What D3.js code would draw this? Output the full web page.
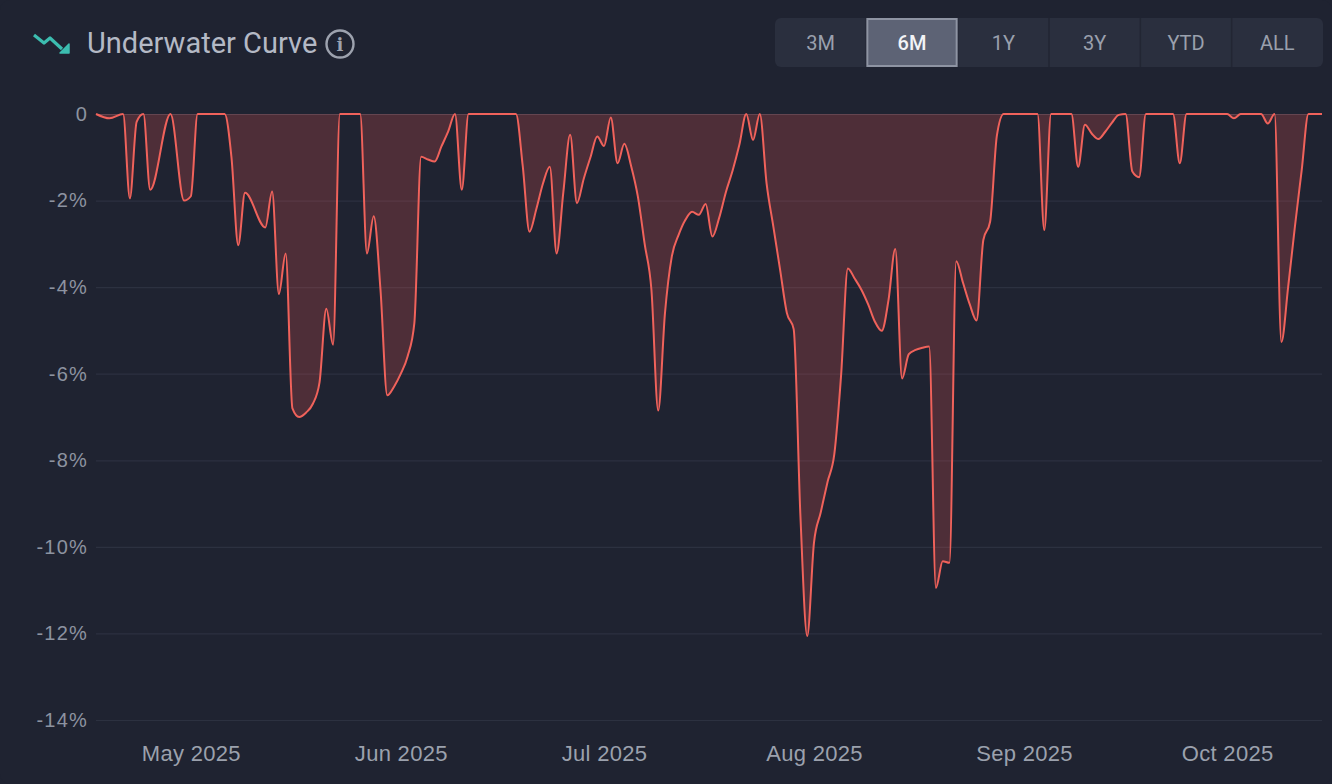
<!DOCTYPE html>
<html>
<head>
<meta charset="utf-8">
<script src="https://cdn.jsdelivr.net/npm/d3@7"></script>
<style>
  html, body { margin: 0; padding: 0; background: #1f2331; }
  svg { display: block; font-family: Roboto, "Liberation Sans", sans-serif; }
</style>
</head>
<body>
<div id="chart"></div>
<script>
// drawdown series (date, % below peak)
const dates = [
  "2025-04-17", "2025-04-19", "2025-04-21", "2025-04-22", "2025-04-23", "2025-04-24", "2025-04-25",
  "2025-04-28", "2025-04-30", "2025-05-01", "2025-05-02", "2025-05-06", "2025-05-07", "2025-05-08",
  "2025-05-09", "2025-05-12", "2025-05-13", "2025-05-14", "2025-05-15", "2025-05-16", "2025-05-17",
  "2025-05-18", "2025-05-19", "2025-05-20", "2025-05-21", "2025-05-22", "2025-05-23", "2025-05-26",
  "2025-05-27", "2025-05-28", "2025-05-29", "2025-05-30", "2025-05-31", "2025-06-01", "2025-06-02",
  "2025-06-03", "2025-06-04", "2025-06-05", "2025-06-06", "2025-06-07", "2025-06-08", "2025-06-09",
  "2025-06-10", "2025-06-11", "2025-06-18", "2025-06-19", "2025-06-20", "2025-06-21", "2025-06-22",
  "2025-06-23", "2025-06-24", "2025-06-25", "2025-06-26", "2025-06-27", "2025-06-28", "2025-06-29",
  "2025-06-30", "2025-07-01", "2025-07-02", "2025-07-03", "2025-07-04", "2025-07-05", "2025-07-06",
  "2025-07-07", "2025-07-08", "2025-07-09", "2025-07-10", "2025-07-11", "2025-07-12", "2025-07-13",
  "2025-07-14", "2025-07-15", "2025-07-16", "2025-07-17", "2025-07-18", "2025-07-19", "2025-07-20",
  "2025-07-21", "2025-07-22", "2025-07-23", "2025-07-24", "2025-07-25", "2025-07-26", "2025-07-27",
  "2025-07-28", "2025-07-29", "2025-07-30", "2025-07-31", "2025-08-01", "2025-08-02", "2025-08-03",
  "2025-08-04", "2025-08-05", "2025-08-06", "2025-08-07", "2025-08-08", "2025-08-09", "2025-08-10",
  "2025-08-11", "2025-08-12", "2025-08-13", "2025-08-14", "2025-08-15", "2025-08-16", "2025-08-17",
  "2025-08-18", "2025-08-19", "2025-08-20", "2025-08-21", "2025-08-22", "2025-08-23", "2025-08-24",
  "2025-08-25", "2025-08-26", "2025-08-27", "2025-08-28", "2025-08-29", "2025-09-03", "2025-09-04",
  "2025-09-05", "2025-09-08", "2025-09-09", "2025-09-10", "2025-09-11", "2025-09-12", "2025-09-13",
  "2025-09-14", "2025-09-15", "2025-09-16", "2025-09-17", "2025-09-18", "2025-09-19", "2025-09-23",
  "2025-09-24", "2025-09-25", "2025-10-01", "2025-10-02", "2025-10-03", "2025-10-06", "2025-10-07",
  "2025-10-08", "2025-10-09", "2025-10-10", "2025-10-11", "2025-10-12", "2025-10-13", "2025-10-15"
];
const drawdown = [
  0, -0.1, 0, -1.95, -0.18, 0, -1.75,
  0, -2.0, -1.9, 0, 0, -1.0, -3.03,
  -1.82, -2.62, -1.79, -4.16, -3.22, -6.8, -7.0,
  -6.9, -6.7, -6.2, -4.5, -5.33, 0, 0,
  -3.22, -2.36, -4.06, -6.5, -6.3, -6.0, -5.6,
  -4.83, -0.99, -1.05, -1.1, -0.75, -0.4, 0,
  -1.75, 0, 0, -1.2, -2.72, -2.2, -1.6,
  -1.22, -3.22, -1.8, -0.48, -2.06, -1.5, -1.0,
  -0.52, -0.74, -0.08, -1.14, -0.69, -1.2, -1.91,
  -3.0, -4.06, -6.85, -4.6, -3.3, -2.8, -2.45,
  -2.26, -2.33, -2.08, -2.83, -2.4, -1.8, -1.3,
  -0.7, 0, -0.6, 0, -1.6, -2.6, -3.6,
  -4.6, -4.97, -9.3, -12.06, -9.9, -9.2, -8.5,
  -7.86, -6.04, -3.57, -3.8, -4.06, -4.4, -4.8,
  -5.01, -4.3, -3.12, -6.11, -5.55, -5.45, -5.4,
  -5.37, -10.95, -10.33, -10.37, -3.4, -3.9, -4.4,
  -4.77, -2.91, -2.49, -0.5, 0, 0, -2.68,
  0, 0, -1.22, -0.25, -0.45, -0.58, -0.41,
  -0.2, -0.02, 0, -1.33, -1.46, 0, 0,
  -1.14, 0, 0, -0.1, 0, 0, -0.22,
  0, -5.27, -4.0, -2.6, -1.3, 0, 0
];
const yTicks = [0, -2, -4, -6, -8, -10, -12, -14];
const ranges = ["3M", "6M", "1Y", "3Y", "YTD", "ALL"];
const activeRange = "6M";
const title = "Underwater Curve";

const W = 1332, H = 784;
const margin = { top: 114, right: 10, bottom: 64, left: 96 };

const parse = d3.timeParse("%Y-%m-%d");
const data = dates.map((d, i) => ({ date: parse(d), v: drawdown[i] }));

const svg = d3.select("#chart").append("svg")
  .attr("width", W)
  .attr("height", H);

svg.append("rect")
  .attr("width", W)
  .attr("height", H)
  .attr("rx", 10)
  .attr("fill", "#1f2331");

// header: icon + title + info
const icon = svg.append("g")
  .attr("fill", "none")
  .attr("stroke", "#3cbdb0")
  .attr("stroke-width", 3.2)
  .attr("stroke-linejoin", "round");
icon.append("polyline").attr("points", "34,35 44,43 50,38 62,49");
icon.append("path")
  .attr("d", "M69,44 L69,53 L60,53 Z")
  .attr("fill", "#3cbdb0")
  .attr("stroke-width", 1.5);

svg.append("text")
  .attr("x", 87)
  .attr("y", 53)
  .attr("fill", "#b4b9c5")
  .attr("font-size", 29)
  .text(title);

const info = svg.append("g").attr("transform", "translate(340,44)");
info.append("circle")
  .attr("r", 13.5)
  .attr("fill", "none")
  .attr("stroke", "#9da2ae")
  .attr("stroke-width", 2.4);
info.append("text")
  .attr("y", 6.5)
  .attr("text-anchor", "middle")
  .attr("fill", "#9da2ae")
  .attr("font-size", 18)
  .attr("font-weight", 700)
  .attr("font-family", "DejaVu Serif, serif")
  .text("i");

// range buttons
const btnX = d3.scaleBand().domain(ranges).range([775, 1323]);
const btns = svg.append("g");
btns.append("rect")
  .attr("x", 775)
  .attr("y", 18)
  .attr("width", 548)
  .attr("height", 49)
  .attr("rx", 6)
  .attr("fill", "#2a2f3e");
btns.selectAll(".sep")
  .data(ranges.slice(1))
  .join("line")
  .attr("class", "sep")
  .attr("x1", (d) => btnX(d))
  .attr("x2", (d) => btnX(d))
  .attr("y1", 18)
  .attr("y2", 67)
  .attr("stroke", "#222633")
  .attr("stroke-width", 1.5);
btns.append("rect")
  .attr("x", btnX(activeRange) + 1)
  .attr("y", 19)
  .attr("width", btnX.bandwidth() - 2)
  .attr("height", 47)
  .attr("fill", "#5d6375")
  .attr("stroke", "#8e94a3")
  .attr("stroke-width", 2);
btns.selectAll(".lbl")
  .data(ranges)
  .join("text")
  .attr("class", "lbl")
  .attr("x", (d) => btnX(d) + btnX.bandwidth() / 2)
  .attr("y", 50)
  .attr("text-anchor", "middle")
  .attr("font-size", 20)
  .attr("font-weight", (d) => (d === activeRange ? 500 : 400))
  .attr("fill", (d) => (d === activeRange ? "#f2f3f6" : "#9aa0ad"))
  .text((d) => d);

// scales
const x = d3.scaleTime()
  .domain([parse("2025-04-17"), parse("2025-10-15")])
  .range([margin.left, W - margin.right]);
const y = d3.scaleLinear()
  .domain([-14, 0])
  .range([H - margin.bottom, margin.top]);

// y axis with grid
const yAxis = svg.append("g")
  .attr("transform", `translate(${margin.left},0)`)
  .call(
    d3.axisLeft(y)
      .tickValues(yTicks)
      .tickSize(-(W - margin.left - margin.right))
      .tickPadding(8)
      .tickFormat((d) => (d === 0 ? "0" : d + "%"))
  );
yAxis.select(".domain").remove();
yAxis.selectAll(".tick line")
  .attr("stroke", (d) => (d === 0 ? "#3b4050" : "#2c3140"))
  .attr("stroke-width", 1.2);
yAxis.selectAll(".tick text")
  .attr("fill", "#8d93a0")
  .attr("font-size", 20)
  .attr("letter-spacing", 1.2)
  .attr("font-family", "Liberation Sans, Arial, sans-serif");

// x axis
const xAxis = svg.append("g")
  .attr("transform", `translate(0,${H - margin.bottom})`)
  .call(
    d3.axisBottom(x)
      .ticks(d3.timeMonth.every(1))
      .tickSize(0)
      .tickPadding(25)
      .tickFormat(d3.timeFormat("%b %Y"))
  );
xAxis.select(".domain").remove();
xAxis.selectAll(".tick text")
  .attr("fill", "#9ba1ad")
  .attr("font-size", 22)
  .attr("letter-spacing", 0.3)
  .attr("font-family", "Liberation Sans, Arial, sans-serif");

// area + line
const area = d3.area()
  .x((d) => x(d.date))
  .y0(y(0))
  .y1((d) => y(d.v))
  .curve(d3.curveMonotoneX);
const line = d3.line()
  .x((d) => x(d.date))
  .y((d) => y(d.v))
  .curve(d3.curveMonotoneX);

svg.append("path")
  .datum(data)
  .attr("d", area)
  .attr("fill", "rgba(236, 88, 84, 0.23)");

svg.append("path")
  .datum(data)
  .attr("d", line)
  .attr("fill", "none")
  .attr("stroke", "#f0625b")
  .attr("stroke-width", 2)
  .attr("stroke-linejoin", "round");
</script>
</body>
</html>
